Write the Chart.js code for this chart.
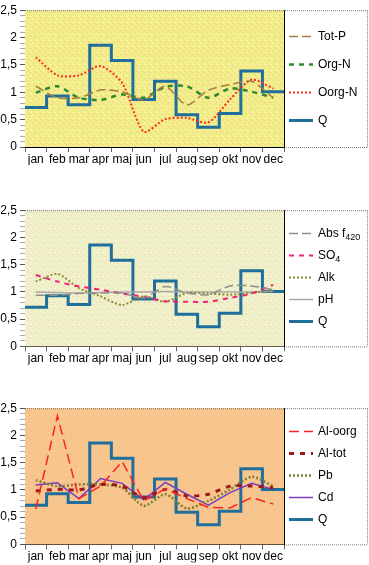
<!DOCTYPE html>
<html><head><meta charset="utf-8">
<script src="https://cdn.jsdelivr.net/npm/chart.js@4/dist/chart.umd.min.js"></script>
<style>
body{margin:0;background:#fff;width:369px;height:565px;overflow:hidden;position:relative}
canvas{position:absolute;left:0}
</style></head><body>
<canvas id="c1" width="369" height="165" style="top:0px"></canvas>
<canvas id="c2" width="369" height="165" style="top:200px"></canvas>
<canvas id="c3" width="369" height="165" style="top:398px"></canvas>
<script>
// ---- data ----
const months = ['jan','feb','mar','apr','maj','jun','jul','aug','sep','okt','nov','dec'];
const yTicks = [0, 0.5, 1, 1.5, 2, 2.5];
const Q     = [0.72,0.93,0.77,1.86,1.58,0.87,1.20,0.59,0.36,0.61,1.39,1.01];
// panel 1
const totP  = [1.11,0.90,0.90,1.04,1.01,0.86,1.11,0.77,1.04,1.14,1.20,0.90];
const orgN  = [0.99,1.11,0.90,0.86,0.96,0.90,1.10,1.11,0.90,1.07,1.01,0.90];
const oorgN = [1.64,1.31,1.31,1.48,1.17,0.28,0.51,0.53,0.45,0.87,1.23,1.07];
// panel 2
const absF  = [0.94,0.94,0.97,0.98,0.98,0.89,1.10,0.98,0.95,1.11,1.11,1.04];
const so4   = [1.31,1.19,1.10,1.04,0.97,0.91,0.83,0.82,0.82,0.89,0.97,1.13];
const alk   = [1.19,1.33,1.07,0.92,0.76,0.92,0.82,0.98,0.97,0.95,0.98,1.04];
const pH    = [1.00,0.99,0.98,0.99,1.00,1.00,1.01,1.00,1.00,1.00,1.00,1.01];
// panel 3
const alOorg= [0.65,2.36,0.84,1.07,1.52,0.80,1.02,0.84,0.68,0.67,0.86,0.74];
const alTot = [0.98,1.01,1.00,1.10,1.07,0.86,1.01,0.89,0.92,1.07,1.07,1.04];
const pb    = [1.18,1.07,1.10,1.10,1.04,0.71,0.92,0.66,0.80,1.01,1.24,1.07];
const cd    = [1.09,1.13,0.84,1.21,1.12,0.82,1.14,0.92,0.72,0.95,1.12,1.01];

Chart.defaults.font.family = '"Liberation Sans", Arial, sans-serif';
Chart.defaults.font.size = 12;
Chart.defaults.color = '#000';

function mid(arr){ return arr.map((v,i)=>({x:i+0.5,y:v})); }
function step(arr){ const d = arr.map((v,i)=>({x:i+1,y:v})); d.unshift({x:0,y:arr[0]}); return d; }

function lineDs(label, arr, color, width, dash, tension, sub){
  return {label, sub, data: mid(arr), borderColor: color, borderWidth: width, borderDash: dash,
    tension, pointRadius: 0, fill: false, borderCapStyle: 'butt'};
}
function qDs(){
  return {label:'Q', data: step(Q), borderColor:'#1f6e9c', borderWidth:3, stepped:'after',
    pointRadius:0, fill:false, order:1, borderDash:[]};
}

function makePattern(base, dots){
  const c = document.createElement('canvas'); c.width = 6; c.height = 6;
  const g = c.getContext('2d');
  g.fillStyle = base; g.fillRect(0,0,6,6);
  dots.forEach(([x,y,col])=>{ g.fillStyle = col; g.fillRect(x,y,1,1); });
  return g.createPattern(c,'repeat');
}

const frame = {
  id:'frame',
  beforeDatasetsDraw(chart){
    const {ctx, chartArea:a} = chart;
    ctx.save();
    ctx.fillStyle = chart.options.plugins.frame.bg;
    ctx.fillRect(a.left, a.top, a.right-a.left, a.bottom-a.top);
    ctx.restore();
  },
  afterDraw(chart){
    const {ctx, chartArea:a} = chart;
    const W = chart.width - 1;
    ctx.save();
    ctx.strokeStyle = '#777'; ctx.lineWidth = 1; ctx.setLineDash([1,1]);
    ctx.beginPath();
    ctx.moveTo(a.left, a.top+0.5); ctx.lineTo(W, a.top+0.5);
    ctx.moveTo(W-0.5, a.top); ctx.lineTo(W-0.5, a.bottom);
    ctx.moveTo(a.right, a.bottom+0.5); ctx.lineTo(W, a.bottom+0.5);
    ctx.stroke();
    ctx.setLineDash([]); ctx.strokeStyle = '#000';
    ctx.beginPath(); ctx.moveTo(a.right+0.5, a.top); ctx.lineTo(a.right+0.5, a.bottom+1); ctx.stroke();
    // legend
    const ds = chart.data.datasets;
    const n = ds.length;
    const sp = n === 4 ? 28 : 22;
    const cy = (a.top + a.bottom)/2 - 1;
    ds.forEach((d,i)=>{
      const y = Math.round(cy + (i-(n-1)/2)*sp) + 0.5;
      ctx.strokeStyle = d.borderColor; ctx.lineWidth = d.borderWidth;
      ctx.setLineDash(d.borderDash || []);
      ctx.beginPath(); ctx.moveTo(a.right+5, y); ctx.lineTo(a.right+29, y); ctx.stroke();
      ctx.setLineDash([]);
      ctx.fillStyle = '#000'; ctx.textBaseline = 'middle'; ctx.textAlign = 'left';
      ctx.font = '12px "Liberation Sans", Arial, sans-serif';
      ctx.fillText(d.label, a.right+34, y);
      if (d.sub){
        const w = ctx.measureText(d.label).width;
        ctx.font = '9px "Liberation Sans", Arial, sans-serif';
        ctx.fillText(d.sub, a.right+34+w, y+4);
      }
    });
    ctx.restore();
  }
};

function makeChart(id, datasets, bg, padTop){
  return new Chart(document.getElementById(id), {
    type:'line',
    data:{datasets},
    options:{
      responsive:false, animation:false,
      layout:{padding:{top:padTop, right:85, left:0, bottom:165-padTop-138.7-18}},
      plugins:{legend:{display:false}, tooltip:{enabled:false}, frame:{bg}},
      scales:{
        x:{type:'linear', min:0, max:months.length,
          afterBuildTicks(s){ const t=[]; for(let i=0;i<=months.length*2;i++) t.push({value:i/2}); s.ticks=t; },
          afterFit(s){ s.height = 18; },
          ticks:{autoSkip:false, maxRotation:0, padding:0, font:{size:12},
            callback:(v)=> Number.isInteger(v) ? '' : months[Math.floor(v)]},
          grid:{drawOnChartArea:false, tickLength:5,
            tickColor:(c)=> Number.isInteger(c.tick && c.tick.value) ? '#666' : 'rgba(0,0,0,0)'},
          border:{display:true, color:'#000', width:1}
        },
        y:{min:0, max:2.5,
          afterBuildTicks(s){ const t=[]; for(let i=0;i<=25;i++) t.push({value:i/10}); s.ticks=t; },
          afterFit(s){ s.width = 25; },
          ticks:{autoSkip:false, padding:3, font:{size:12},
            callback:(v)=>{ const k=Math.round(v*10); return (k%5===0 && yTicks.includes(k/10)) ? String(k/10).replace('.',',') : ''; }},
          grid:{drawOnChartArea:false, tickLength:5,
            tickColor:(c)=> (Math.round((c.tick?c.tick.value:0)*10)%5===0) ? '#555' : '#aaa'},
          border:{display:true, color:'#000', width:1}
        }
      }
    },
    plugins:[frame]
  });
}

const bg1 = makePattern('#f3ee88', [[0,0,'#f4b8a0'],[3,2,'#c0e098'],[1,4,'#f8f8c0'],[4,5,'#f0c890']]);
const bg2 = makePattern('#f2f0c8', [[0,0,'#f4c8c0'],[3,2,'#c8ecc0'],[1,4,'#f8f8e0'],[4,5,'#d0ecc8']]);
const bg3 = makePattern('#f8c48c', [[0,0,'#d8d49c'],[3,3,'#d8d49c'],[1,4,'#fad0a0']]);

makeChart('c1', [
  lineDs('Tot-P', totP, '#a67c45', 1.5, [9,4], 0.25),
  lineDs('Org-N', orgN, '#2c8a2c', 2.5, [5,5], 0.25),
  lineDs('Oorg-N', oorgN, '#ff2a1a', 2, [2,2], 0.25),
  qDs()
], bg1, 8.3);

makeChart('c2', [
  lineDs('Abs f', absF, '#8e8e8e', 1.5, [9,4], 0.25, '420'),
  lineDs('SO', so4, '#f0207a', 2, [5,5], 0.25, '4'),
  lineDs('Alk', alk, '#8a8a30', 2, [2,2], 0.25),
  lineDs('pH', pH, '#a8a8a8', 1.5, [], 0.25),
  qDs()
], bg2, 7.7);

makeChart('c3', [
  lineDs('Al-oorg', alOorg, '#ff2020', 1.5, [10,5], 0),
  lineDs('Al-tot', alTot, '#a01818', 3, [5,6], 0.25),
  lineDs('Pb', pb, '#7e7e30', 2.5, [2,2], 0.25),
  lineDs('Cd', cd, '#7a3cc0', 1.5, [], 0),
  qDs()
], bg3, 7.7);
</script>
</body></html>
